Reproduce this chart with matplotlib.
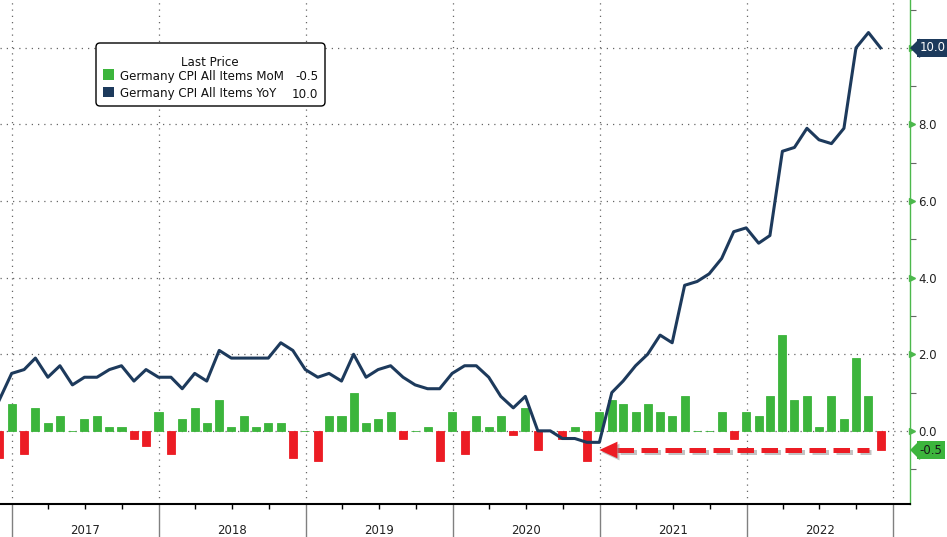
import matplotlib
matplotlib.use("Agg")
import matplotlib.dates as mdates
import matplotlib.patheffects as pe
import matplotlib.pyplot as plt
import matplotlib.transforms as mtransforms
import pandas as pd
from matplotlib.markers import MarkerStyle
from matplotlib.patches import FancyBboxPatch, Rectangle

# Germany CPI, monthly values plotted at month end, Nov 2016 .. Nov 2022
start_month = "2016-11-01"
mom = [
    -0.7, 0.7, -0.6, 0.6, 0.2, 0.4, 0.0, 0.3, 0.4, 0.1, 0.1, -0.2, -0.4,
    0.5, -0.6, 0.3, 0.6, 0.2, 0.8, 0.1, 0.4, 0.1, 0.2, 0.2, -0.7,
    0.0, -0.8, 0.4, 0.4, 1.0, 0.2, 0.3, 0.5, -0.2, 0.0, 0.1, -0.8,
    0.5, -0.6, 0.4, 0.1, 0.4, -0.1, 0.6, -0.5, 0.0, -0.2, 0.1, -0.8,
    0.5, 0.8, 0.7, 0.5, 0.7, 0.5, 0.4, 0.9, 0.0, 0.0, 0.5, -0.2,
    0.5, 0.4, 0.9, 2.5, 0.8, 0.9, 0.1, 0.9, 0.3, 1.9, 0.9, -0.5,
]
yoy = [
    0.8, 1.5, 1.6, 1.9, 1.4, 1.7, 1.2, 1.4, 1.4, 1.6, 1.7, 1.3, 1.6,
    1.4, 1.4, 1.1, 1.5, 1.3, 2.1, 1.9, 1.9, 1.9, 1.9, 2.3, 2.1,
    1.6, 1.4, 1.5, 1.3, 2.0, 1.4, 1.6, 1.7, 1.4, 1.2, 1.1, 1.1,
    1.5, 1.7, 1.7, 1.4, 0.9, 0.6, 0.9, 0.0, 0.0, -0.2, -0.2, -0.3,
    -0.3, 1.0, 1.3, 1.7, 2.0, 2.5, 2.3, 3.8, 3.9, 4.1, 4.5, 5.2,
    5.3, 4.9, 5.1, 7.3, 7.4, 7.9, 7.6, 7.5, 7.9, 10.0, 10.4, 10.0,
]
years = [2017, 2018, 2019, 2020, 2021, 2022]
y_ticks = [0, 2, 4, 6, 8, 10]
series_names = ["Germany CPI All Items MoM", "Germany CPI All Items YoY"]
legend_title = "Last Price"

GREEN = "#3cb53c"
RED = "#ec1c24"
NAVY = "#1d3a5c"
AXIS_GREEN = "#4cb84c"
GRID = "#666666"

dates = pd.date_range(start_month, periods=len(mom), freq="MS") + pd.offsets.MonthEnd(0)

W, H, DPI = 947, 537, 100
fig = plt.figure(figsize=(W / DPI, H / DPI), dpi=DPI)
ax = fig.add_axes([0, 33 / H, 909.5 / W, 504 / H])

bar_colors = [GREEN if v >= 0 else RED for v in mom]
ax.bar(dates, mom, width=20, color=bar_colors, edgecolor=bar_colors, linewidth=0.6, zorder=3)
ax.plot(dates, yoy, color=NAVY, lw=2.2, zorder=4)

ax.set_xlim(pd.Timestamp("2016-12-02"), pd.Timestamp("2023-02-10"))
ax.set_ylim(-1.91, 11.25)

# dotted grid
year_starts = [pd.Timestamp(f"{y}-01-01") for y in years + [years[-1] + 1]]
dotted = (0, (1, 4))
for v in y_ticks:
    ax.axhline(v, color=GRID, lw=0.9, ls=dotted, zorder=1)
for d in year_starts:
    ax.axvline(d, color=GRID, lw=0.9, ls=dotted, zorder=1)

# year bands under the axis
below = ax.get_xaxis_transform()
ax.vlines(year_starts, -0.066, 0, transform=below, color="#808080", lw=1, clip_on=False)
for y in years:
    ax.text(mdates.date2num(pd.Timestamp(f"{y}-07-02")), -0.052, str(y), transform=below,
            ha="center", va="center", fontsize=8.5, color="#222222")

quarters = [pd.Timestamp(f"{y}-{m:02d}-01") for y in years for m in (4, 7, 10)]
ax.set_xticks(quarters)
ax.set_xticklabels([])
ax.tick_params(axis="x", length=3.5, width=1, color="black", direction="out")

for s in ("top", "left"):
    ax.spines[s].set_visible(False)
ax.spines["bottom"].set_color("black")
ax.spines["bottom"].set_linewidth(1.5)
ax.spines["right"].set_color(AXIS_GREEN)
ax.spines["right"].set_linewidth(1)

# right axis
ax.yaxis.tick_right()
ax.set_yticks(y_ticks)
ax.set_yticklabels([f"{v:.1f}" for v in y_ticks])
ax.set_yticks(range(-1, 12, 2), minor=True)
ax.tick_params(axis="y", which="major", length=0, pad=6.5, labelsize=8.5, labelcolor="#222222")
ax.tick_params(axis="y", which="minor", length=4, width=0.8, color=GRID)

spine_x = ax.get_yaxis_transform()
tri = mtransforms.offset_copy(spine_x, fig=fig, x=2.5, y=0, units="dots")
ax.plot([1] * len(y_ticks), y_ticks, ls="none", marker=">", ms=5, color=AXIS_GREEN,
        transform=tri, clip_on=False, zorder=5)

tag_marker = MarkerStyle([(0, 0), (1, 1), (1, -1)])


def value_tag(value, face, text_color):
    ax.plot([1], [value], ls="none", marker=tag_marker, ms=13, color=face,
            transform=spine_x, clip_on=False, zorder=6)
    ax.text(1, value, f"{value:.1f}",
            transform=mtransforms.offset_copy(spine_x, fig=fig, x=10, y=0, units="dots"),
            ha="left", va="center", fontsize=8.5, color=text_color,
            bbox=dict(boxstyle="square,pad=0.2", fc=face, ec="none"),
            clip_on=False, zorder=6)


value_tag(yoy[-1], NAVY, "white")
value_tag(mom[-1], GREEN, "#1a1a1a")

# red dashed arrow pointing back to Dec 2020
arrow_y = mom[-1]
tip = dates[49]
head_base = tip + pd.Timedelta(days=45)
tail = dates[-1] - pd.Timedelta(days=28)
ax.plot([head_base, tail], [arrow_y, arrow_y], color=RED, lw=3.6, ls=(0, (3.3, 1.5)),
        dash_capstyle="butt", zorder=7,
        path_effects=[pe.SimpleLineShadow(offset=(1.5, -1.5), shadow_color="#888888", alpha=0.5),
                      pe.Normal()])
ax.annotate("", xy=(mdates.date2num(tip), arrow_y), xytext=(mdates.date2num(head_base), arrow_y),
            arrowprops=dict(arrowstyle="-|>,head_length=0.65,head_width=0.3", mutation_scale=20,
                            color=RED, lw=0, shrinkA=0, shrinkB=0,
                            path_effects=[pe.SimplePatchShadow(offset=(1.5, -1.5),
                                                               shadow_rgbFace="#888888", alpha=0.5),
                                          pe.Normal()]),
            zorder=7)

# legend box, drawn in pixel coordinates
ident = mtransforms.IdentityTransform()


def disp(x, y):
    return x, H - y


fig.add_artist(FancyBboxPatch(disp(96, 106), 229, 63, boxstyle="round,pad=0,rounding_size=4",
                              transform=ident, fc="white", ec="black", lw=1))
fig.text(*disp(210, 66), legend_title, transform=ident, fontsize=8.6, ha="center",
         va="baseline", color="#111111")
rows = [(series_names[0], GREEN, mom[-1], 80), (series_names[1], NAVY, yoy[-1], 97.5)]
for name, color, value, base in rows:
    fig.add_artist(Rectangle(disp(103, base - 0.5), 10.5, 10.5, transform=ident, fc=color, ec="none"))
    fig.text(*disp(120, base), name, transform=ident, fontsize=8.6, va="baseline", color="#111111")
    fig.text(*disp(318, base), f"{value:.1f}", transform=ident, fontsize=8.6, ha="right",
             va="baseline", color="#111111")

fig.savefig("out.png", dpi=DPI)
